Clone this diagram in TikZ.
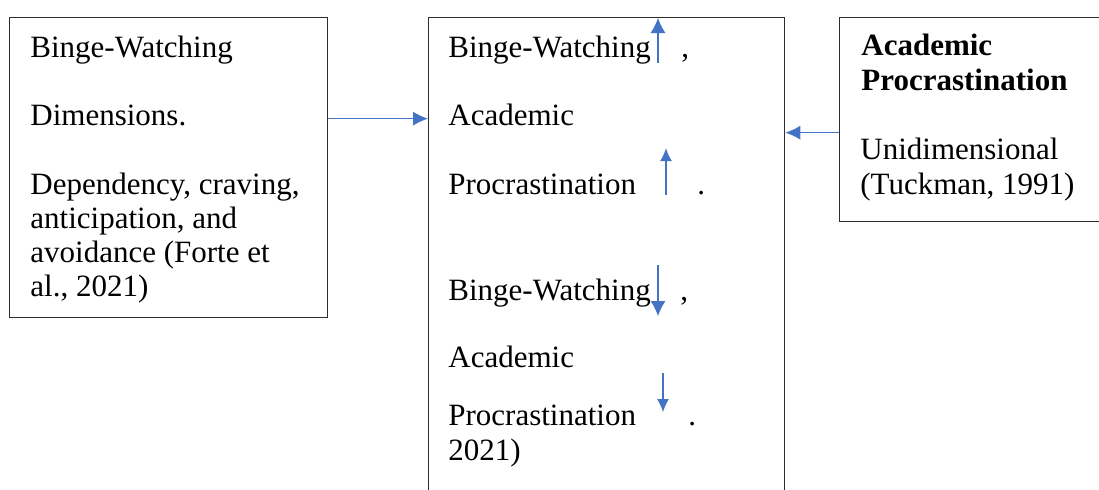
\documentclass[tikz,border=0pt]{standalone}
\usepackage{fontspec}
\setmainfont{Liberation Serif}
\usetikzlibrary{positioning, arrows.meta, calc}
\definecolor{linkblue}{RGB}{68, 114, 196}
\definecolor{framegray}{RGB}{45, 45, 45}

\begin{document}
\begin{tikzpicture}[
    x=0.5pt, y=-0.5pt,
    panel/.style={
      draw=framegray, line width=0.65pt, anchor=north west,
      inner sep=0pt
    },
    txt/.style={anchor=base west, inner sep=0pt, font=\fontsize{15.5pt}{17pt}\selectfont},
    boldtxt/.style={txt, font=\fontsize{15.5pt}{17pt}\selectfont\bfseries},
    link/.style={-{Latex[length=7.5pt, width=7pt]}, linkblue, line width=0.55pt},
    trend/.style={-{Latex[length=7.5pt, width=7.5pt]}, linkblue, line width=0.55pt},
    smalltrend/.style={-{Latex[length=6.5pt, width=6pt]}, linkblue, line width=0.9pt},
]
    \useasboundingbox (0,0) rectangle (1099,489);
    \clip (0,0) rectangle (1099,489);

    % Boxes
    \node[panel, minimum width=159pt, minimum height=150pt] (dims) at (9,17) {};
    \node[panel, minimum width=178pt, minimum height=256pt] (mid) at (428,17) {};
    \node[panel, minimum width=141pt, minimum height=102pt] (proc) at (839,17) {};

    % Left box text
    \node[txt] (bw) at (30,57) {Binge-Watching};
    \node[txt] (dimlabel) at (30,125) {Dimensions.};
    \node[txt] (dep1) at (30,194) {Dependency, craving,};
    \node[txt] (dep2) at (30,228) {anticipation, and};
    \node[txt] (dep3) at (30,262) {avoidance (Forte et};
    \node[txt] (dep4) at (30,296) {al., 2021)};

    % Middle box text
    \node[txt] (bwup) at (448,57) {Binge-Watching};
    \node[txt] (comma1) at (681,57) {,};
    \node[txt] (acup) at (448,125) {Academic};
    \node[txt] (prup) at (448,194) {Procrastination};
    \node[txt] (dot1) at (697,194) {.};
    \node[txt] (bwdown) at (448,300) {Binge-Watching};
    \node[txt] (comma2) at (680,300) {,};
    \node[txt] (acdown) at (448,367) {Academic};
    \node[txt] (prdown) at (448,425) {Procrastination};
    \node[txt] (dot2) at (688,425) {.};
    \node[txt] (year) at (448,460) {2021)};

    % Right box text
    \node[boldtxt] (pa1) at (861,55) {Academic};
    \node[boldtxt] (pa2) at (861,90) {Procrastination};
    \node[txt] (uni) at (860,159) {Unidimensional};
    \node[txt] (tuck) at (860,194) {(Tuckman, 1991)};

    % Trend arrows
    \coordinate (up1s) at (658,63);
    \coordinate (up1e) at (658,18);
    \coordinate (up2s) at (666,195);
    \coordinate (up2e) at (666,148);
    \coordinate (dn1s) at (658,265);
    \coordinate (dn1e) at (658,316);
    \coordinate (dn2s) at (663,373);
    \coordinate (dn2e) at (663,412);
    \draw[trend] (up1s) -- (up1e);
    \draw[smalltrend] (up2s) -- (up2e);
    \draw[trend] (dn1s) -- (dn1e);
    \draw[smalltrend, line width=0.55pt] (dn2s) -- (dn2e);

    % Links into the middle box
    \coordinate (inL) at ([yshift=24.5pt]dims.east);
    \coordinate (inR) at ([yshift=-6.5pt]proc.west);
    \draw[link] (inL) -- (inL -| mid.west);
    \draw[link] (inR) -- (inR -| mid.east);
\end{tikzpicture}
\end{document}
